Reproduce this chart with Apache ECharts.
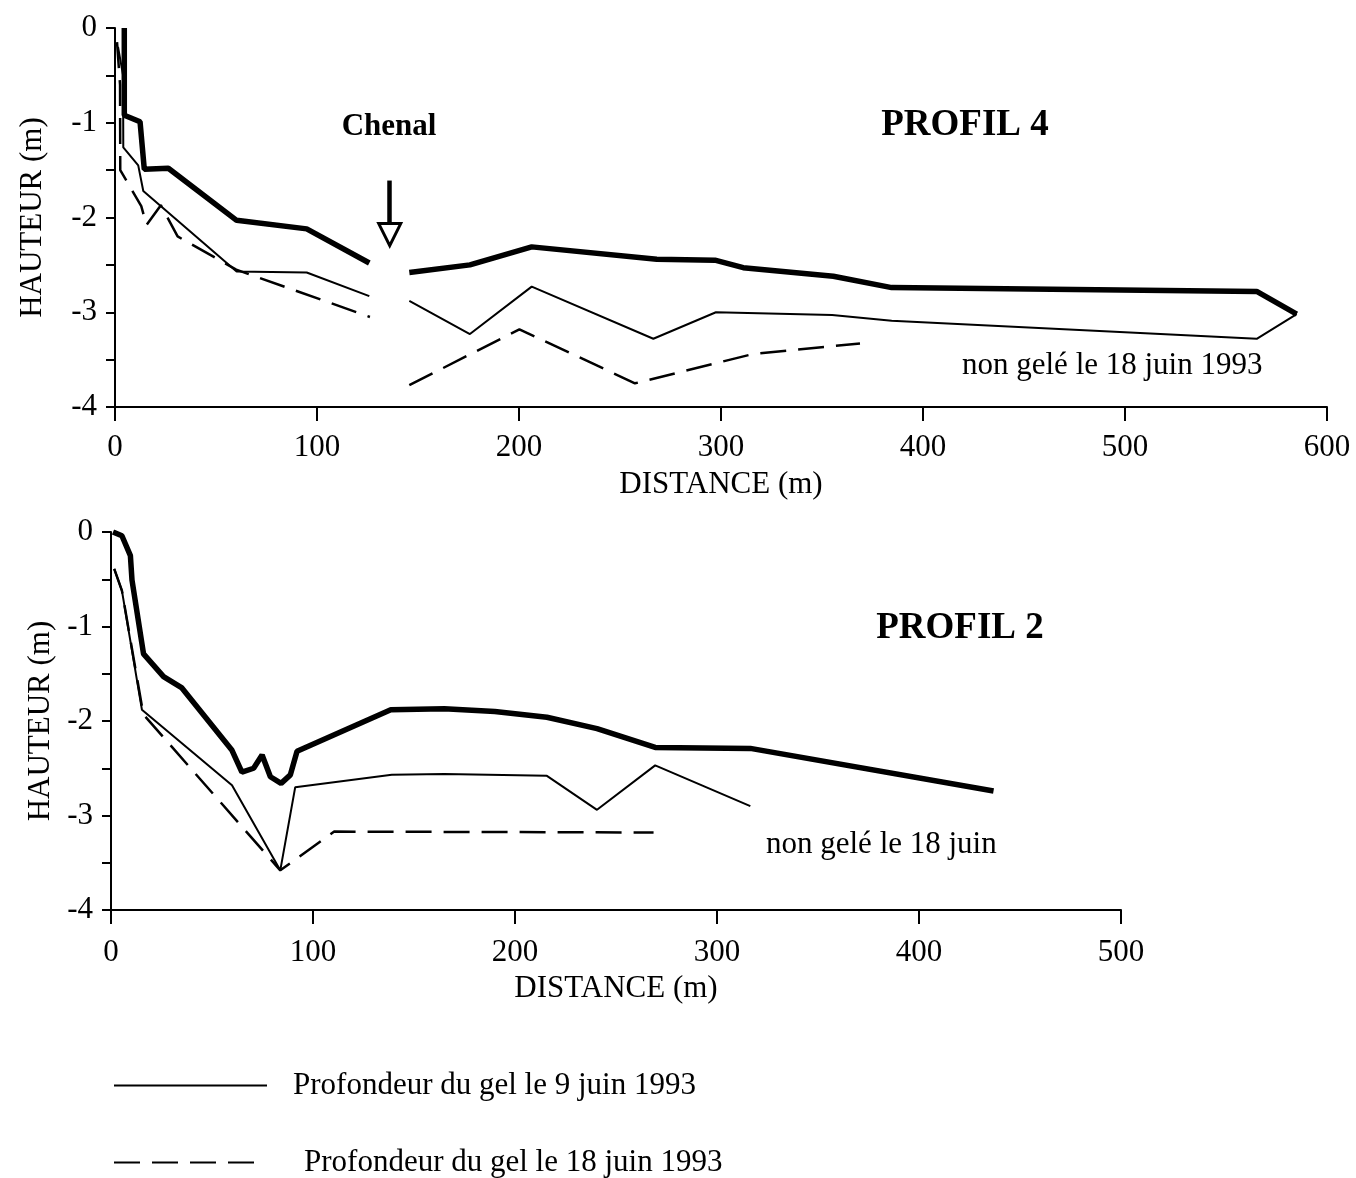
<!DOCTYPE html>
<html lang="fr">
<head>
<meta charset="utf-8">
<title>Profondeur du gel - profils 4 et 2</title>
<script src="https://cdn.jsdelivr.net/npm/echarts@6/dist/echarts.min.js"></script>
<style>
  html, body { margin: 0; padding: 0; background: #fff; }
  #chart { width: 1356px; height: 1178px; }
</style>
</head>
<body>
<div id="chart"></div>
<script>
// PROFIL 4 : distance (m), hauteur (m). The channel ("Chenal") splits each line in two.
const p4SurfaceWest = [[4.6, 0], [4.6, -0.92], [12.4, -0.99], [14.5, -1.49], [26.4, -1.48], [60.2, -2.03], [94.9, -2.12], [125.9, -2.48]]
const p4SurfaceEast = [[145.7, -2.58], [175.7, -2.5], [206.3, -2.31], [268.2, -2.44], [297, -2.45], [311, -2.53], [355.6, -2.62], [384.5, -2.74], [565.2, -2.78], [585, -3.02]]
const p4Gel9West = [[1.5, -0.2], [4, -0.5], [4.1, -1.26], [11.5, -1.45], [14, -1.72], [60.2, -2.57], [94.9, -2.58], [125.9, -2.83]]
const p4Gel9East = [[145.7, -2.88], [175.7, -3.23], [206.3, -2.73], [266.5, -3.28], [297.5, -3.0], [355, -3.03], [384.5, -3.09], [565.2, -3.28], [585, -3.02]]
const p4Gel18West = [[1, -0.15], [2.5, -0.6], [2.6, -1.5], [13, -1.88], [15.6, -2.08], [22.7, -1.87], [31, -2.2], [60, -2.55], [126.2, -3.05]]
const p4Gel18East = [[145.7, -3.77], [200.2, -3.18], [257.4, -3.75], [316, -3.44], [368.8, -3.33]]
// arrow over the channel: shaft top, shaft bottom, arrow head centre
const chenalShaft = [[136, -1.61], [136, -2.08]]
const chenalHead = [136, -2.18]

// PROFIL 2
const p2Surface = [[1, 0], [5.4, -0.04], [9.6, -0.25], [10.4, -0.51], [16.1, -1.29], [26, -1.53], [35.1, -1.65], [59.9, -2.31], [64.8, -2.54], [70.6, -2.5], [74.8, -2.36], [78.9, -2.59], [84.2, -2.66], [88.8, -2.57], [92.1, -2.32], [138.5, -1.88], [165, -1.87], [190, -1.9], [215.8, -1.96], [240.6, -2.08], [269.4, -2.28], [316.5, -2.29], [436.9, -2.74]]
const p2Gel9 = [[1.6, -0.39], [5.4, -0.62], [15.3, -1.88], [59.9, -2.68], [83.8, -3.58], [91.2, -2.7], [139, -2.57], [165, -2.56], [215.8, -2.58], [240.6, -2.94], [269.4, -2.47], [316.5, -2.9]]
const p2Gel18 = [[1.6, -0.39], [5.4, -0.62], [16, -1.93], [83.8, -3.58], [110.5, -3.17], [268.6, -3.18]]

const gel9Name = 'Profondeur du gel le 9 juin 1993'
const gel18Name = 'Profondeur du gel le 18 juin 1993'
const surfaceName = 'Surface'

const serif = '"Liberation Serif", "Times New Roman", serif'

const lineKinds = {
  surface: { width: 5.5, type: 'solid' },
  gel9: { width: 2, type: 'solid' },
  gel18: { width: 2.5, type: [26, 12] },
}

function makeLine(name, data, gridIndex, kind) {
  return {
    name,
    type: 'line',
    data,
    xAxisIndex: gridIndex,
    yAxisIndex: gridIndex,
    symbol: 'none',
    silent: true,
    animation: false,
    itemStyle: { color: '#000' },
    lineStyle: { color: '#000', width: lineKinds[kind].width, type: lineKinds[kind].type },
  }
}

function makeXAxis(gridIndex, max, nameGap, labelMargin) {
  return {
    type: 'value',
    gridIndex,
    min: 0,
    max,
    interval: 100,
    name: 'DISTANCE (m)',
    nameLocation: 'middle',
    nameGap,
    nameTextStyle: { color: '#000', fontSize: 31, fontFamily: serif },
    axisLine: { onZero: false, lineStyle: { color: '#000', width: 2 } },
    axisTick: { length: 14, lineStyle: { color: '#000', width: 2 } },
    axisLabel: { color: '#000', fontSize: 31, fontFamily: serif, margin: labelMargin },
    splitLine: { show: false },
  }
}

function makeYAxis(gridIndex, nameGap) {
  return {
    type: 'value',
    gridIndex,
    min: -4,
    max: 0,
    interval: 0.5,
    name: 'HAUTEUR (m)',
    nameLocation: 'middle',
    nameGap,
    nameTextStyle: { color: '#000', fontSize: 31, fontFamily: serif },
    axisLine: { onZero: false, lineStyle: { color: '#000', width: 2 } },
    axisTick: { length: 9, lineStyle: { color: '#000', width: 2 } },
    axisLabel: {
      color: '#000',
      fontSize: 31,
      fontFamily: serif,
      margin: 18,
      formatter: (v) => (Number.isInteger(v) ? String(v) : ''),
    },
    splitLine: { show: false },
  }
}

function makeLegend(name, top, itemWidth, textGap) {
  return {
    data: [name],
    left: 113,
    top,
    padding: 0,
    itemWidth,
    itemHeight: 14,
    selectedMode: false,
    itemStyle: { opacity: 0 },
    textStyle: { color: '#000', fontSize: 31, fontFamily: serif, padding: [0, 0, 0, textGap] },
  }
}

function makeText(text, x, y, size, bold, align) {
  return {
    type: 'text',
    x,
    y,
    silent: true,
    style: {
      text,
      fill: '#000',
      fontSize: size,
      fontFamily: serif,
      fontWeight: bold ? 'bold' : 'normal',
      align: align || 'center',
      verticalAlign: 'middle',
    },
  }
}

function initChart() {
  const chart = echarts.init(document.getElementById('chart'), null, { renderer: 'canvas' })

  const p4Surface = makeLine(surfaceName, p4SurfaceWest, 0, 'surface')
  p4Surface.markLine = {
    silent: true,
    animation: false,
    symbol: ['none', 'none'],
    label: { show: false },
    lineStyle: { color: '#000', width: 4.5, type: 'solid' },
    data: [[{ coord: chenalShaft[0] }, { coord: chenalShaft[1] }]],
  }
  p4Surface.markPoint = {
    silent: true,
    animation: false,
    symbol: 'triangle',
    symbolRotate: 180,
    symbolSize: [22, 22],
    label: { show: false },
    itemStyle: { color: '#fff', borderColor: '#000', borderWidth: 3 },
    data: [{ coord: chenalHead }],
  }

  chart.setOption({
    backgroundColor: '#fff',
    animation: false,
    grid: [
      { left: 115, top: 28, width: 1212, height: 379 },
      { left: 111, top: 532, width: 1010, height: 378 },
    ],
    xAxis: [makeXAxis(0, 600, 62, 25), makeXAxis(1, 500, 63, 27)],
    yAxis: [makeYAxis(0, 67), makeYAxis(1, 53)],
    legend: [
      makeLegend(gel9Name, 1070, 153, 21),
      makeLegend(gel18Name, 1147, 150, 35),
    ],
    graphic: [
      makeText('Chenal', 389, 127, 31, true),
      makeText('PROFIL 4', 965, 125, 37, true),
      makeText('non gelé le 18 juin 1993', 962, 366, 31, false, 'left'),
      makeText('PROFIL 2', 960, 628, 37, true),
      makeText('non gelé le 18 juin', 766, 845, 31, false, 'left'),
    ],
    series: [
      p4Surface,
      makeLine(surfaceName, p4SurfaceEast, 0, 'surface'),
      makeLine(gel9Name, p4Gel9West, 0, 'gel9'),
      makeLine(gel9Name, p4Gel9East, 0, 'gel9'),
      makeLine(gel18Name, p4Gel18West, 0, 'gel18'),
      makeLine(gel18Name, p4Gel18East, 0, 'gel18'),
      makeLine(surfaceName, p2Surface, 1, 'surface'),
      makeLine(gel9Name, p2Gel9, 1, 'gel9'),
      makeLine(gel18Name, p2Gel18, 1, 'gel18'),
    ],
  })

  window.addEventListener('resize', () => {
    chart.resize()
  })
}

initChart()
</script>
</body>
</html>
